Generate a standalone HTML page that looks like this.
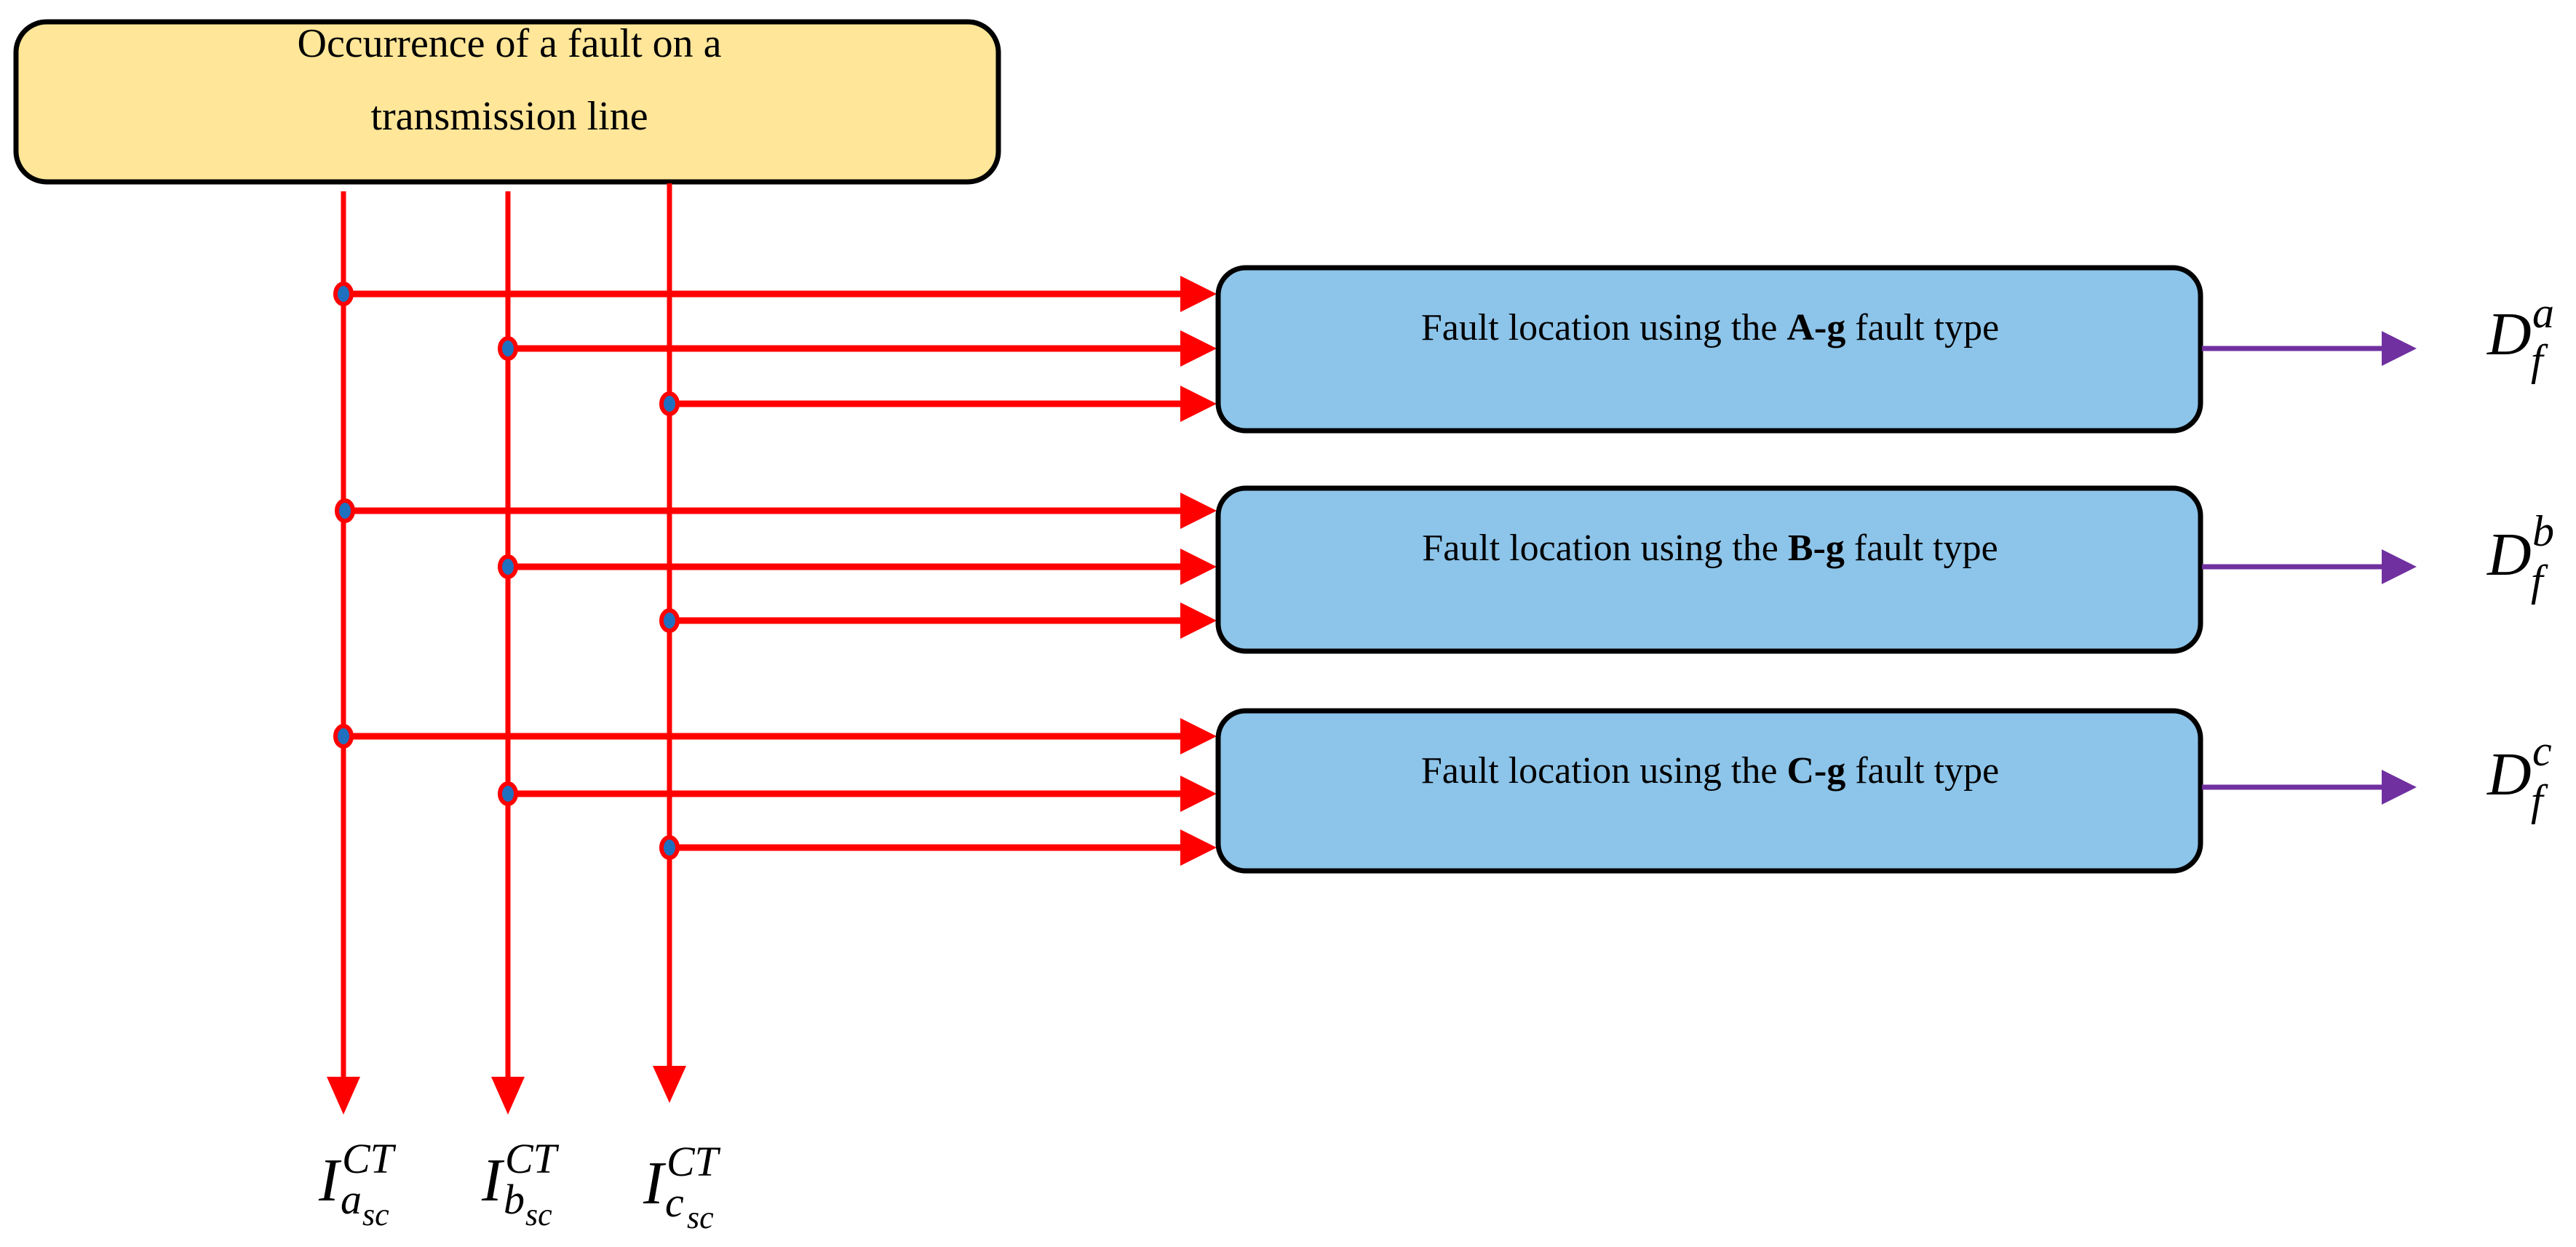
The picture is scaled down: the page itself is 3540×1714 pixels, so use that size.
<!DOCTYPE html>
<html><head><meta charset="utf-8"><style>html,body{margin:0;padding:0;background:#fff}svg{display:block}</style></head>
<body>
<svg width="3540" height="1714" viewBox="0 0 3540 1714" xmlns="http://www.w3.org/2000/svg">
<rect x="22" y="30" width="1350" height="220" rx="42" fill="#FFE699" stroke="#000" stroke-width="7"/>
<g font-family="Liberation Serif, serif" font-size="56" text-anchor="middle" fill="#000">
<text x="700" y="78">Occurrence of a fault on a</text>
<text x="700" y="178">transmission line</text>
</g>
<g stroke="#FF0000" stroke-width="7" fill="none">
<line x1="472" y1="263" x2="472" y2="1485"/>
<line x1="698" y1="263" x2="698" y2="1485"/>
<line x1="920" y1="252" x2="920" y2="1470"/>
</g>
<g fill="#FF0000">
<polygon points="449,1480 495,1480 472,1532"/>
<polygon points="675,1480 721,1480 698,1532"/>
<polygon points="897,1465 943,1465 920,1516"/>
</g>
<g stroke="#FF0000" stroke-width="9">
<line x1="472" y1="404" x2="1630" y2="404"/>
<line x1="698" y1="479" x2="1630" y2="479"/>
<line x1="920" y1="555" x2="1630" y2="555"/>
<line x1="472" y1="702" x2="1630" y2="702"/>
<line x1="698" y1="779" x2="1630" y2="779"/>
<line x1="920" y1="853" x2="1630" y2="853"/>
<line x1="472" y1="1012" x2="1630" y2="1012"/>
<line x1="698" y1="1091" x2="1630" y2="1091"/>
<line x1="920" y1="1165" x2="1630" y2="1165"/>
</g>
<g fill="#FF0000">
<polygon points="1622,379 1672,404 1622,429"/>
<polygon points="1622,454 1672,479 1622,504"/>
<polygon points="1622,530 1672,555 1622,580"/>
<polygon points="1622,677 1672,702 1622,727"/>
<polygon points="1622,754 1672,779 1622,804"/>
<polygon points="1622,828 1672,853 1622,878"/>
<polygon points="1622,987 1672,1012 1622,1037"/>
<polygon points="1622,1066 1672,1091 1622,1116"/>
<polygon points="1622,1140 1672,1165 1622,1190"/>
</g>
<g fill="#2070C0" stroke="#FF0000" stroke-width="6">
<ellipse cx="472" cy="404" rx="11" ry="14"/>
<ellipse cx="698" cy="479" rx="11" ry="14"/>
<ellipse cx="920" cy="555" rx="11" ry="14"/>
<ellipse cx="474" cy="702" rx="11" ry="14"/>
<ellipse cx="698" cy="779" rx="11" ry="14"/>
<ellipse cx="920" cy="853" rx="11" ry="14"/>
<ellipse cx="472" cy="1012" rx="11" ry="14"/>
<ellipse cx="698" cy="1091" rx="11" ry="14"/>
<ellipse cx="920" cy="1165" rx="11" ry="14"/>
</g>
<g fill="#8DC4E9" stroke="#000" stroke-width="7">
<rect x="1674" y="368" width="1350" height="224" rx="38"/>
<rect x="1674" y="671" width="1350" height="224" rx="38"/>
<rect x="1674" y="977" width="1350" height="220" rx="38"/>
</g>
<g font-family="Liberation Serif, serif" font-size="52" text-anchor="middle" fill="#000">
<text x="2350" y="467">Fault location using the <tspan font-weight="bold">A-g</tspan> fault type</text>
<text x="2350" y="770">Fault location using the <tspan font-weight="bold">B-g</tspan> fault type</text>
<text x="2350" y="1076">Fault location using the <tspan font-weight="bold">C-g</tspan> fault type</text>
</g>
<g stroke="#7030A0" stroke-width="7">
<line x1="3026" y1="479" x2="3280" y2="479"/>
<line x1="3026" y1="779" x2="3280" y2="779"/>
<line x1="3026" y1="1082" x2="3280" y2="1082"/>
</g>
<g fill="#7030A0">
<polygon points="3273,455 3321,479 3273,503"/>
<polygon points="3273,755 3321,779 3273,803"/>
<polygon points="3273,1058 3321,1082 3273,1106"/>
</g>
<g font-family="Liberation Serif, serif" font-style="italic" fill="#000">
<text x="3418" y="487" font-size="84">D</text><text x="3480" y="450" font-size="60">a</text><text x="3478" y="515" font-size="60">f</text>
<text x="3418" y="790" font-size="84">D</text><text x="3480" y="750" font-size="60">b</text><text x="3478" y="818" font-size="60">f</text>
<text x="3418" y="1092" font-size="84">D</text><text x="3480" y="1052" font-size="60">c</text><text x="3478" y="1120" font-size="60">f</text>
<text x="438" y="1650" font-size="84">I</text><text x="470" y="1612" font-size="58">CT</text><text x="468" y="1668" font-size="58">a</text><text x="498" y="1684" font-size="44">sc</text>
<text x="662" y="1650" font-size="84">I</text><text x="694" y="1612" font-size="58">CT</text><text x="692" y="1668" font-size="58">b</text><text x="722" y="1684" font-size="44">sc</text>
<text x="884" y="1654" font-size="84">I</text><text x="916" y="1616" font-size="58">CT</text><text x="914" y="1672" font-size="58">c</text><text x="944" y="1688" font-size="44">sc</text>
</g>
</svg>
</body></html>
